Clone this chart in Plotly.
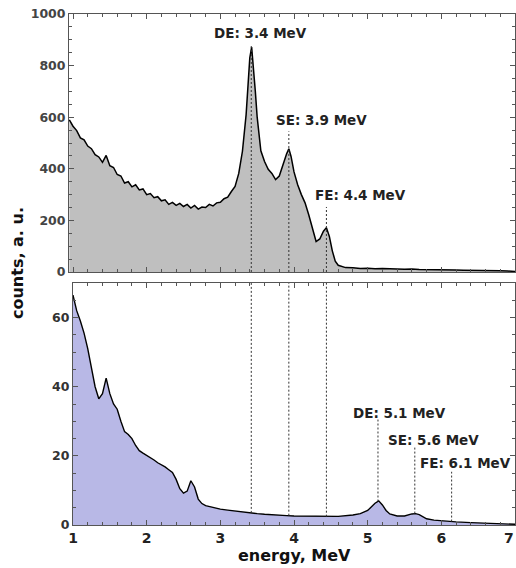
import plotly.graph_objects as go

# Upper spectrum (grey): energy in MeV and counts (a.u.)
top_energy = [0.95, 1.00, 1.05, 1.10, 1.15, 1.20, 1.25, 1.30, 1.35, 1.40, 1.45, 1.50, 1.55,
              1.60, 1.65, 1.70, 1.75, 1.80, 1.85, 1.90, 1.95, 2.00, 2.05, 2.10, 2.15, 2.20,
              2.25, 2.30, 2.35, 2.40, 2.45, 2.50, 2.55, 2.60, 2.65, 2.70, 2.75, 2.80, 2.85,
              2.90, 2.95, 3.00, 3.05, 3.10, 3.15, 3.20, 3.25, 3.30, 3.35, 3.375, 3.40, 3.425,
              3.45, 3.475, 3.50, 3.525, 3.55, 3.60, 3.65, 3.70, 3.75, 3.80, 3.85, 3.90, 3.93,
              3.96, 4.00, 4.05, 4.10, 4.15, 4.20, 4.25, 4.30, 4.35, 4.40, 4.44, 4.48, 4.52,
              4.56, 4.60, 4.65, 4.70, 4.80, 4.90, 5.00, 5.10, 5.20, 5.30, 5.40, 5.50, 5.60,
              5.70, 5.80, 5.90, 6.00, 6.10, 6.20, 6.30, 6.40, 6.50, 6.60, 6.70, 6.80, 6.90, 7.00]
top_counts = [590, 565, 548, 520, 512, 488, 478, 455, 446, 425, 452, 412, 405,
              378, 372, 345, 350, 330, 338, 318, 322, 300, 304, 288, 292, 276,
              280, 262, 270, 258, 266, 254, 262, 248, 258, 244, 252, 250, 262,
              256, 268, 270, 284, 290, 312, 332, 382, 468, 610, 720, 830, 872,
              800, 700, 600, 520, 470, 428, 398, 382, 358, 372, 418, 458, 478,
              448, 388, 338, 300, 268, 222, 172, 118, 128, 158, 172, 138, 82,
              42, 26, 20, 17, 16, 14, 15, 13, 14, 12, 12, 11, 12,
              10, 10, 9, 9, 8, 8, 7, 7, 6, 6, 5, 5, 4, 2]

# Lower spectrum (lavender)
bot_energy = [1.00, 1.05, 1.10, 1.15, 1.20, 1.25, 1.30, 1.35, 1.40, 1.45, 1.50, 1.55, 1.60,
              1.65, 1.70, 1.75, 1.80, 1.85, 1.90, 1.95, 2.00, 2.05, 2.10, 2.15, 2.20, 2.25,
              2.30, 2.35, 2.40, 2.45, 2.50, 2.55, 2.60, 2.65, 2.70, 2.75, 2.80, 2.85, 2.90,
              3.00, 3.10, 3.20, 3.30, 3.40, 3.50, 3.60, 3.70, 3.80, 3.90, 4.00, 4.20, 4.40,
              4.60, 4.80, 4.90, 5.00, 5.05, 5.10, 5.15, 5.20, 5.25, 5.30, 5.40, 5.50, 5.60,
              5.65, 5.70, 5.75, 5.80, 5.90, 6.00, 6.10, 6.20, 6.40, 6.60, 6.80, 7.00]
bot_counts = [66.5, 62.0, 59.0, 55.5, 51.0, 46.0, 40.0, 36.5, 38.0, 42.5, 38.0, 35.0, 33.5,
              30.0, 27.0, 26.2, 25.0, 23.0, 21.5, 20.8, 20.2, 19.4, 18.8, 18.0, 17.5, 16.8,
              16.0, 15.2, 13.2, 10.5, 9.2, 9.8, 12.8, 11.0, 7.5, 6.2, 5.6, 5.3, 5.0,
              4.6, 4.3, 4.0, 3.7, 3.5, 3.3, 3.1, 2.9, 2.8, 2.7, 2.6, 2.5, 2.4,
              2.5, 2.9, 3.3, 4.2, 5.3, 6.3, 7.0, 5.8, 4.2, 3.2, 2.6, 2.6, 3.2,
              3.3, 3.0, 2.3, 1.8, 1.4, 1.2, 1.0, 0.9, 0.7, 0.5, 0.3, 0.2]

# Energy axis ticks
x_ticks = [1, 2, 3, 4, 5, 6, 7]
x_tick_text = ["1", "2", "3", "4", "5", "6", ""]   # last one is drawn flush with the edge

# Marker lines: energy and vertical extent per panel
top_markers = [3.42, 3.93, 4.44]
top_marker_tops = [880, 545, 252]
bot_markers = [5.14, 5.64, 6.14]
bot_marker_spans = [(6.8, 30.5), (3.3, 22.7), (1.0, 15.4)]
bot_through = [3.5, 2.7, 2.4]

top_labels = ["DE: 3.4 MeV", "SE: 3.9 MeV", "FE: 4.4 MeV"]
top_label_pos = [(3.54, 926), (4.37, 589), (4.90, 298)]
bot_labels = ["DE: 5.1 MeV", "SE: 5.6 MeV", "FE: 6.1 MeV"]
bot_label_pos = [(5.43, 32.5), (5.89, 24.7), (6.33, 18.0)]

FONT = "DejaVu Sans"
AX = "#555555"

fig = go.Figure()

fig.add_trace(go.Scatter(x=top_energy, y=top_counts, mode="lines", fill="tozeroy",
                         fillcolor="#bfbfbf", line=dict(color="black", width=1.5),
                         xaxis="x2", yaxis="y2", showlegend=False))
fig.add_trace(go.Scatter(x=bot_energy, y=bot_counts, mode="lines", fill="tozeroy",
                         fillcolor="#b8b8e6", line=dict(color="black", width=1.4),
                         xaxis="x", yaxis="y", showlegend=False))

dash = dict(color="#333333", width=1, dash="2px,2px")
for e, hi in zip(top_markers, top_marker_tops):
    fig.add_trace(go.Scatter(x=[e, e], y=[0, hi], mode="lines", line=dash,
                             xaxis="x2", yaxis="y2", showlegend=False))
for e, lo in zip(top_markers, bot_through):
    fig.add_trace(go.Scatter(x=[e, e], y=[lo, 70], mode="lines", line=dash,
                             xaxis="x", yaxis="y", showlegend=False))
for e, (lo, hi) in zip(bot_markers, bot_marker_spans):
    fig.add_trace(go.Scatter(x=[e, e], y=[lo, hi], mode="lines", line=dash,
                             xaxis="x", yaxis="y", showlegend=False))

label_font = dict(family=FONT, size=13.5, color="#222222")
annotations = []
for txt, (x, y) in zip(top_labels, top_label_pos):
    annotations.append(dict(text="<b>" + txt + "</b>", x=x, y=y, xref="x2", yref="y2",
                            showarrow=False, font=label_font,
                            xanchor="center", yanchor="middle"))
for txt, (x, y) in zip(bot_labels, bot_label_pos):
    annotations.append(dict(text="<b>" + txt + "</b>", x=x, y=y, xref="x", yref="y",
                            showarrow=False, font=label_font,
                            xanchor="center", yanchor="middle"))
annotations.append(dict(text="<b>" + str(x_ticks[-1]) + "</b>", x=1.0, y=(525 - 538) / 511,
                        xref="paper", yref="paper", showarrow=False,
                        xanchor="right", yanchor="middle", xshift=1,
                        font=dict(family=FONT, size=14, color="#222222")))
annotations.append(dict(text="<b>energy, MeV</b>", x=(294 - 69) / 446, y=(525 - 555) / 511,
                        xref="paper", yref="paper", showarrow=False,
                        xanchor="center", yanchor="middle",
                        font=dict(family=FONT, size=16, color="#111111")))
annotations.append(dict(text="<b>counts, a. u.</b>", x=(17 - 69) / 446, y=(525 - 263) / 511,
                        xref="paper", yref="paper", showarrow=False, textangle=-90,
                        xanchor="center", yanchor="middle",
                        font=dict(family=FONT, size=16, color="#111111")))

axis_common = dict(showline=True, linecolor=AX, linewidth=1, mirror="ticks",
                   ticks="inside", tickcolor=AX, ticklen=5, showgrid=False, zeroline=False,
                   automargin=False)

fig.update_layout(
    width=516, height=568,
    margin=dict(l=69, r=1, t=14, b=43),
    plot_bgcolor="white", paper_bgcolor="white",
    annotations=annotations,
    xaxis=dict(domain=[4 / 446, 1], range=[1, 7.0001], anchor="y",
               tickmode="array", tickvals=x_ticks, ticktext=x_tick_text,
               minor=dict(dtick=0.2, ticks="inside", ticklen=3, tickcolor=AX),
               tickfont=dict(family=FONT, size=14, color="#222222", weight="bold"),
               **axis_common),
    yaxis=dict(domain=[0, (525 - 283) / 511], range=[0, 70], anchor="x", dtick=20,
               minor=dict(dtick=5, ticks="inside", ticklen=3, tickcolor=AX),
               tickfont=dict(family=FONT, size=12.5, color="#333333", weight="bold"),
               **axis_common),
    xaxis2=dict(domain=[0, 1], range=[1 - 4 / 73.5, 7.0001], anchor="y2", dtick=1,
                showticklabels=False,
                minor=dict(dtick=0.2, ticks="inside", ticklen=3, tickcolor=AX),
                **axis_common),
    yaxis2=dict(domain=[(525 - 272) / 511, 1], range=[0, 1000], anchor="x2", dtick=200,
                minor=dict(dtick=50, ticks="inside", ticklen=3, tickcolor=AX),
                tickfont=dict(family=FONT, size=12.5, color="#444444", weight="bold"),
                **axis_common),
)

fig.write_html("out.html")
